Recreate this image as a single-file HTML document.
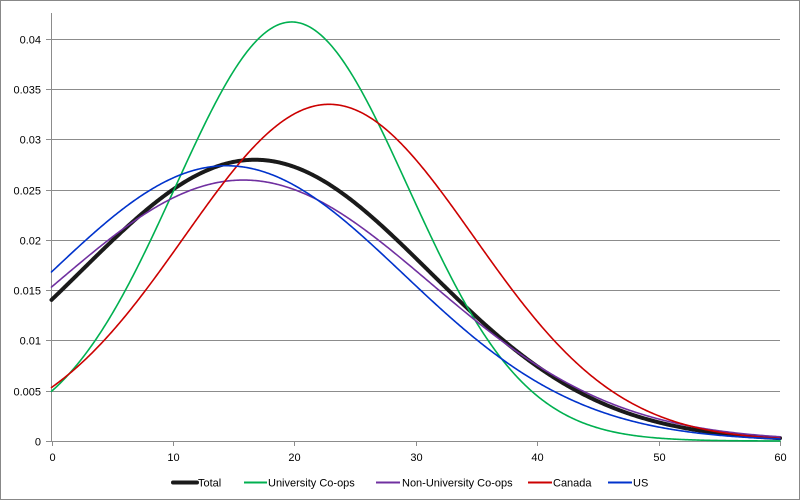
<!DOCTYPE html>
<html><head><meta charset="utf-8"><style>
html,body{margin:0;padding:0;background:#fff;}
svg{display:block;}
text{font-family:"Liberation Sans",sans-serif;font-size:11px;fill:#000;}
</style></head><body>
<svg id="c" width="800" height="500" viewBox="0 0 800 500" xmlns="http://www.w3.org/2000/svg">
<rect x="0.5" y="0.5" width="799" height="499" fill="#fff" stroke="#888" stroke-width="1"/>
<g id="grid" stroke="#8c8c8c" stroke-width="1"></g>
<g id="labels"></g>
<g id="series" fill="none" stroke-linejoin="round" stroke-linecap="round"></g>
<g id="legend"></g>
</svg>
<script>
(function(){
var NS="http://www.w3.org/2000/svg";
var X0=51.5,X1=780,Y0=441,PXU=10060;
function px(x){return X0+(X1-X0)*x/60;}
function py(v){return Y0-v*PXU;}
function el(t,a,p,txt){var e=document.createElementNS(NS,t);for(var k in a)e.setAttribute(k,a[k]);if(txt!=null)e.textContent=txt;p.appendChild(e);return e;}
var grid=document.getElementById('grid'),lab=document.getElementById('labels');
for(var i=0;i<=8;i++){var v=i*0.005,y=Math.round(py(v))+0.5;
 if(i>0)el('line',{x1:X0,y1:y,x2:X1,y2:y},grid);
 el('line',{x1:46,y1:y,x2:X0,y2:y},grid);
 var s=(i==0)?'0':(Math.round(v*1000)/1000).toString();
 el('text',{x:41,y:y+4,'text-anchor':'end'},lab,s);}
el('line',{x1:X0,y1:13,x2:X0,y2:Y0+0.5},grid);
el('line',{x1:X0,y1:Y0+0.5,x2:X1,y2:Y0+0.5},grid);
for(var j=0;j<=6;j++){var x=Math.round(px(j*10))+0.5;
 el('line',{x1:x,y1:Y0,x2:x,y2:446},grid);
 el('text',{x:x,y:461,'text-anchor':'middle'},lab,String(j*10));}
var S=[
 {n:'Total',c:'#1a1a1a',w:4,m:16.76,s:14.27},
 {n:'University Co-ops',c:'#00b050',w:1.6,m:19.78,s:9.578},
 {n:'Non-University Co-ops',c:'#7030a0',w:1.6,m:15.8,s:15.38},
 {n:'Canada',c:'#cc0000',w:1.6,m:22.86,s:11.92},
 {n:'US',c:'#0033cc',w:1.6,m:14.4,s:14.58}];
var g=document.getElementById('series');
S.forEach(function(o){var d='';for(var k=0;k<=600;k++){var x=k*0.1;
 var v=Math.exp(-(x-o.m)*(x-o.m)/(2*o.s*o.s))/(o.s*Math.sqrt(2*Math.PI));
 d+=(k?'L':'M')+px(x).toFixed(2)+' '+py(v).toFixed(2);}
 el('path',{d:d,stroke:o.c,'stroke-width':o.w},g);});
var L=document.getElementById('legend');
var pos=[[173,197,198],[244,267,268],[376,400,402],[528,552,553],[608,632,633]];
S.forEach(function(o,i){var p=pos[i];
 el('line',{x1:p[0],y1:482.5,x2:p[1],y2:482.5,stroke:o.c,'stroke-width':o.w==4?4:2,'stroke-linecap':o.w==4?'round':'butt'},L);
 el('text',{x:p[2],y:486.5},L,o.n);});
})();
</script>
</body></html>
